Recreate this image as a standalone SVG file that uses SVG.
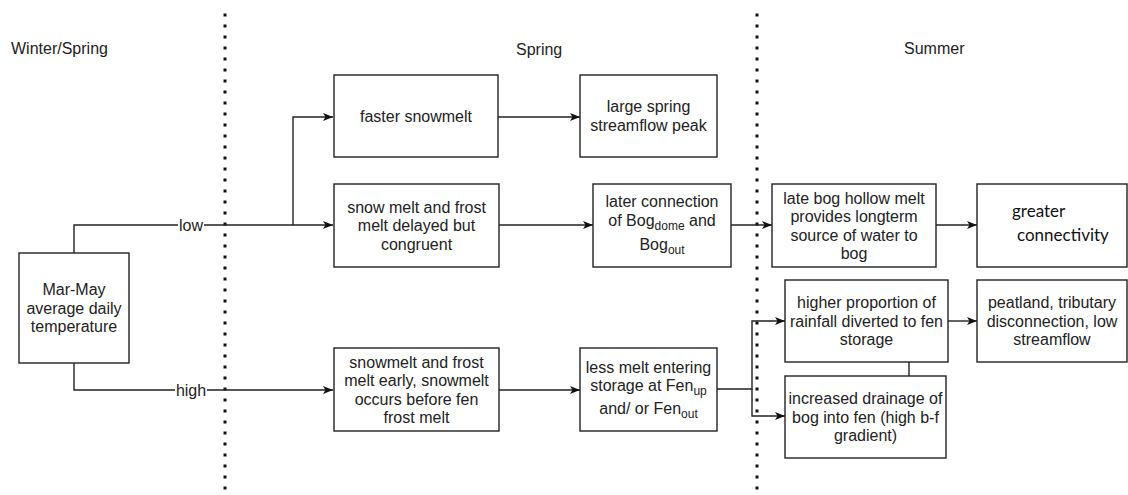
<svg xmlns="http://www.w3.org/2000/svg" width="1128" height="495" viewBox="0 0 1128 495">
<style>
  text { font-family: "Liberation Sans", Arial, sans-serif; font-size: 16px; fill: #222; }
  .c { text-anchor: middle; }
  .box { fill: #fff; stroke: #222; stroke-width: 1.4; }
  .edge { fill: none; stroke: #222; stroke-width: 1.4; }
  .dots { stroke: #111; stroke-width: 3; stroke-dasharray: 3 8; }
  .sub { font-size: 12px; }
  .cal { font-family: Lato, "Open Sans", sans-serif; font-size: 17px; fill: #111; }
</style>
<defs>
  <marker id="arr" markerWidth="11" markerHeight="9" refX="10" refY="4.5" orient="auto" markerUnits="userSpaceOnUse">
    <path d="M0,0.5 L10,4.5 L0,8.5 L2.5,4.5 Z" fill="#111"/>
  </marker>
</defs>
<rect width="1128" height="495" fill="#fff"/>

<g id="separators">
  <line class="dots" x1="225" y1="13.5" x2="225" y2="495"/>
  <line class="dots" x1="757" y1="13.5" x2="757" y2="495"/>
</g>

<g id="season-labels">
  <text x="11" y="54">Winter/Spring</text>
  <text x="516" y="55">Spring</text>
  <text x="904" y="54">Summer</text>
</g>

<g id="connectors">
  <path class="edge" d="M74,253 V225 H333" marker-end="url(#arr)"/>
  <path class="edge" d="M293,225 V117 H333" marker-end="url(#arr)"/>
  <path class="edge" d="M74,363 V390 H333" marker-end="url(#arr)"/>
  <path class="edge" d="M498,117 H580" marker-end="url(#arr)"/>
  <path class="edge" d="M499,225 H593" marker-end="url(#arr)"/>
  <path class="edge" d="M731,225 H772" marker-end="url(#arr)"/>
  <path class="edge" d="M936,225 H977" marker-end="url(#arr)"/>
  <path class="edge" d="M499,390 H580" marker-end="url(#arr)"/>
  <path class="edge" d="M717,389 H752 V321 H785" marker-end="url(#arr)"/>
  <path class="edge" d="M752,389 V416 H785" marker-end="url(#arr)"/>
  <path class="edge" d="M948,321 H977" marker-end="url(#arr)"/>
  <path class="edge" d="M909,362 V376"/>
  <rect x="178" y="216" width="26" height="18" fill="#fff"/>
  <text class="c" x="191" y="231">low</text>
  <rect x="175" y="381" width="32" height="18" fill="#fff"/>
  <text class="c" x="191" y="396">high</text>
</g>

<g id="n-temp">
  <rect class="box" x="19" y="253" width="110" height="110"/>
  <text class="c" x="74" y="295">Mar-May</text>
  <text class="c" x="74" y="313.5">average daily</text>
  <text class="c" x="74" y="332">temperature</text>
</g>

<g id="n-faster">
  <rect class="box" x="334" y="75" width="164" height="82"/>
  <text class="c" x="416" y="121.5">faster snowmelt</text>
</g>

<g id="n-large">
  <rect class="box" x="580" y="75" width="137" height="82"/>
  <text class="c" x="648.5" y="112">large spring</text>
  <text class="c" x="648.5" y="130.5">streamflow peak</text>
</g>

<g id="n-delayed">
  <rect class="box" x="334" y="184" width="165" height="83"/>
  <text class="c" x="416.5" y="212.5">snow melt and frost</text>
  <text class="c" x="416.5" y="231">melt delayed but</text>
  <text class="c" x="416.5" y="249.5">congruent</text>
</g>

<g id="n-later">
  <rect class="box" x="593" y="184" width="138" height="83"/>
  <text class="c" x="662" y="207">later connection</text>
  <text class="c" x="662" y="226">of Bog<tspan class="sub" dy="4">dome</tspan><tspan dy="-4"> and</tspan></text>
  <text class="c" x="662" y="250">Bog<tspan class="sub" dy="4">out</tspan></text>
</g>

<g id="n-latebog">
  <rect class="box" x="772" y="184" width="164" height="83"/>
  <text class="c" x="854" y="203.5">late bog hollow melt</text>
  <text class="c" x="854" y="222">provides longterm</text>
  <text class="c" x="854" y="240.5">source of water to</text>
  <text class="c" x="854" y="259">bog</text>
</g>

<g id="n-greater">
  <rect class="box" x="977" y="184" width="150" height="83"/>
  <text class="cal" x="1012" y="217">greater</text>
  <text class="cal" x="1017" y="241">connectivity</text>
</g>

<g id="n-early">
  <rect class="box" x="334" y="348" width="165" height="83"/>
  <text class="c" x="416.5" y="367.5">snowmelt and frost</text>
  <text class="c" x="416.5" y="386">melt early, snowmelt</text>
  <text class="c" x="416.5" y="404.5">occurs before fen</text>
  <text class="c" x="416.5" y="423">frost melt</text>
</g>

<g id="n-less">
  <rect class="box" x="580" y="348" width="137" height="83"/>
  <text class="c" x="648.5" y="373">less melt entering</text>
  <text class="c" x="648.5" y="391">storage at Fen<tspan class="sub" dy="4">up</tspan></text>
  <text class="c" x="648.5" y="414">and/ or Fen<tspan class="sub" dy="4">out</tspan></text>
</g>

<g id="n-higher">
  <rect class="box" x="785" y="280" width="163" height="82"/>
  <text class="c" x="866.5" y="308">higher proportion of</text>
  <text class="c" x="866.5" y="326.5">rainfall diverted to fen</text>
  <text class="c" x="866.5" y="345">storage</text>
</g>

<g id="n-drainage">
  <rect class="box" x="785" y="376" width="161" height="82"/>
  <text class="c" x="865.5" y="404">increased drainage of</text>
  <text class="c" x="865.5" y="422.5">bog into fen (high b-f</text>
  <text class="c" x="865.5" y="441">gradient)</text>
</g>

<g id="n-peatland">
  <rect class="box" x="977" y="280" width="150" height="82"/>
  <text class="c" x="1052" y="308">peatland, tributary</text>
  <text class="c" x="1052" y="326.5">disconnection, low</text>
  <text class="c" x="1052" y="345">streamflow</text>
</g>
</svg>
